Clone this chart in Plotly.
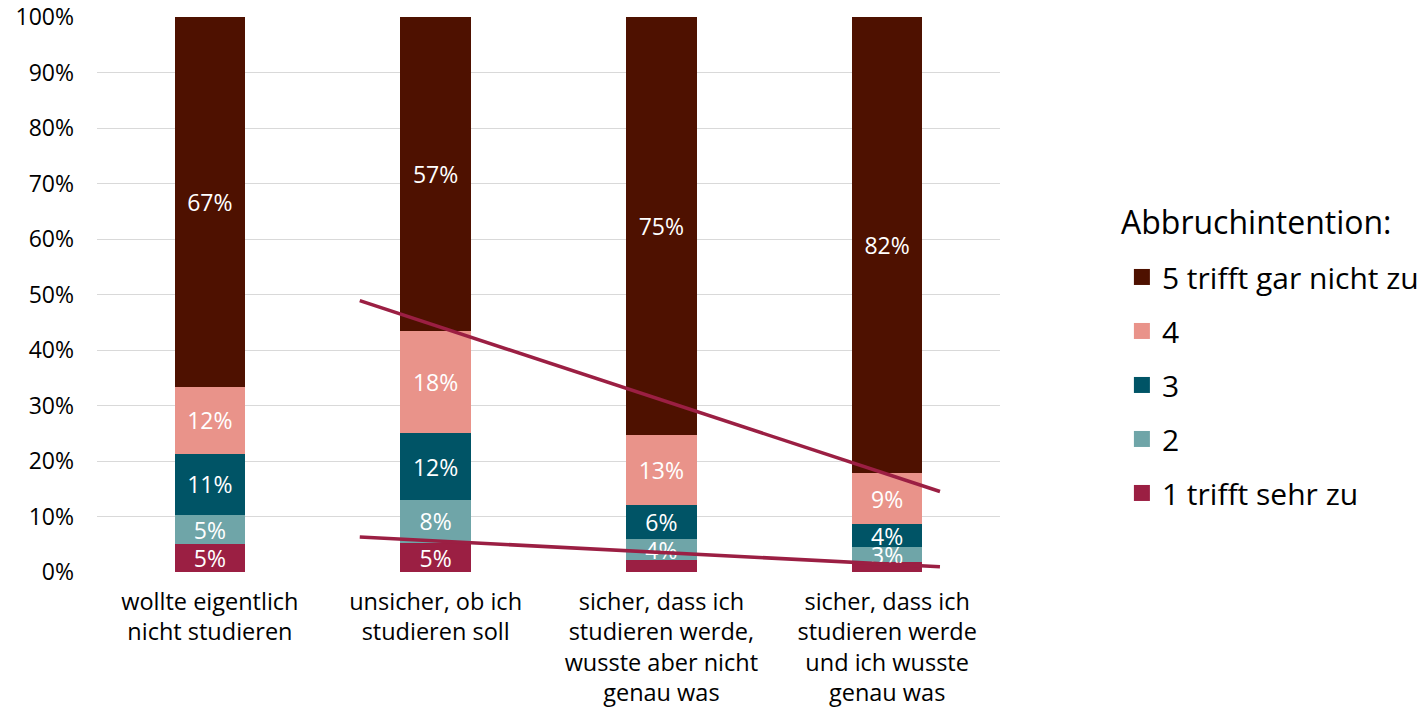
import plotly.graph_objects as go

categories = [
    "wollte eigentlich<br>nicht studieren",
    "unsicher, ob ich<br>studieren soll",
    "sicher, dass ich<br>studieren werde,<br>wusste aber nicht<br>genau was",
    "sicher, dass ich<br>studieren werde<br>und ich wusste<br>genau was",
]
series_names = ["1 trifft sehr zu", "2", "3", "4", "5 trifft gar nicht zu"]
s1 = [5.0, 5.2, 2.2, 1.8]
s2 = [5.3, 7.8, 3.7, 2.7]
s3 = [11.0, 12.0, 6.2, 4.1]
s4 = [12.1, 18.4, 12.6, 9.2]
s5 = [66.6, 56.6, 75.3, 82.2]
series_values = [s1, s2, s3, s4, s5]
colors = ["#9B1F43", "#6FA5A8", "#005466", "#E9938A", "#4E1100"]
y_ticks = [0, 10, 20, 30, 40, 50, 60, 70, 80, 90, 100]
y_tick_labels = [f"{t}%" for t in y_ticks]
legend_title = "Abbruchintention:"

# hand-drawn guide lines (start/end positions on category axis, values in %)
upper_line_x = [0.664, 3.234]
upper_line_y = [48.9, 14.5]
lower_line_x = [0.664, 3.234]
lower_line_y = [6.3, 0.95]

FONT = "Open Sans"
xpos = list(range(len(categories)))

fig = go.Figure()
for name, vals, col in zip(series_names, series_values, colors):
    texts = [f"{int(v + 0.5)}%" if v >= 2.5 else "" for v in vals]
    fig.add_trace(go.Bar(
        x=xpos, y=vals, name=name, marker=dict(color=col, line=dict(width=0)),
        width=0.313, text=texts, textposition="inside", insidetextanchor="middle",
        constraintext="none", textangle=0,
        textfont=dict(family=FONT, size=23, color="white"),
        showlegend=False, hoverinfo="skip",
    ))

for lx, ly in [(upper_line_x, upper_line_y), (lower_line_x, lower_line_y)]:
    fig.add_trace(go.Scatter(
        x=lx, y=ly, mode="lines", line=dict(color="#9B1F43", width=3.5),
        showlegend=False, hoverinfo="skip",
    ))

# legend entries, top to bottom: 5 ... 1
for i in range(len(series_names) - 1, -1, -1):
    fig.add_trace(go.Scatter(
        x=[None], y=[None], mode="markers", name=series_names[i],
        legendgroup=f"g{i}",
        marker=dict(symbol="square", size=19, color=colors[i]), showlegend=True,
    ))

fig.add_annotation(
    text=legend_title, xref="paper", yref="paper", x=1.132, y=0.631,
    xanchor="left", yanchor="middle", showarrow=False,
    font=dict(size=32, family=FONT, color="black"),
)

fig.update_layout(
    barmode="stack",
    width=1411, height=701,
    margin=dict(l=89, r=419, t=9, b=137, autoexpand=False),
    plot_bgcolor="white", paper_bgcolor="white",
    font=dict(family=FONT, color="black"),
    legend=dict(
        x=1.135, xanchor="left", y=0.337, yanchor="middle",
        traceorder="grouped", tracegroupgap=12,
        font=dict(size=30, family=FONT),
        itemsizing="trace",
    ),
    xaxis=dict(
        tickmode="array", tickvals=xpos, ticktext=categories,
        range=[-0.5, 3.5], showgrid=False, zeroline=False, showline=False,
        tickfont=dict(size=23.5, family=FONT), ticks="", ticklabelstandoff=13,
    ),
    yaxis=dict(
        tickmode="array", tickvals=y_ticks, ticktext=y_tick_labels,
        range=[0, 100], showgrid=True, gridcolor="#D9D9D9", gridwidth=1,
        zeroline=False, showline=False, ticklabeloverflow="allow",
        tickfont=dict(size=23, family=FONT), ticks="", ticklabelstandoff=22,
    ),
)

fig.write_html("out.html")
